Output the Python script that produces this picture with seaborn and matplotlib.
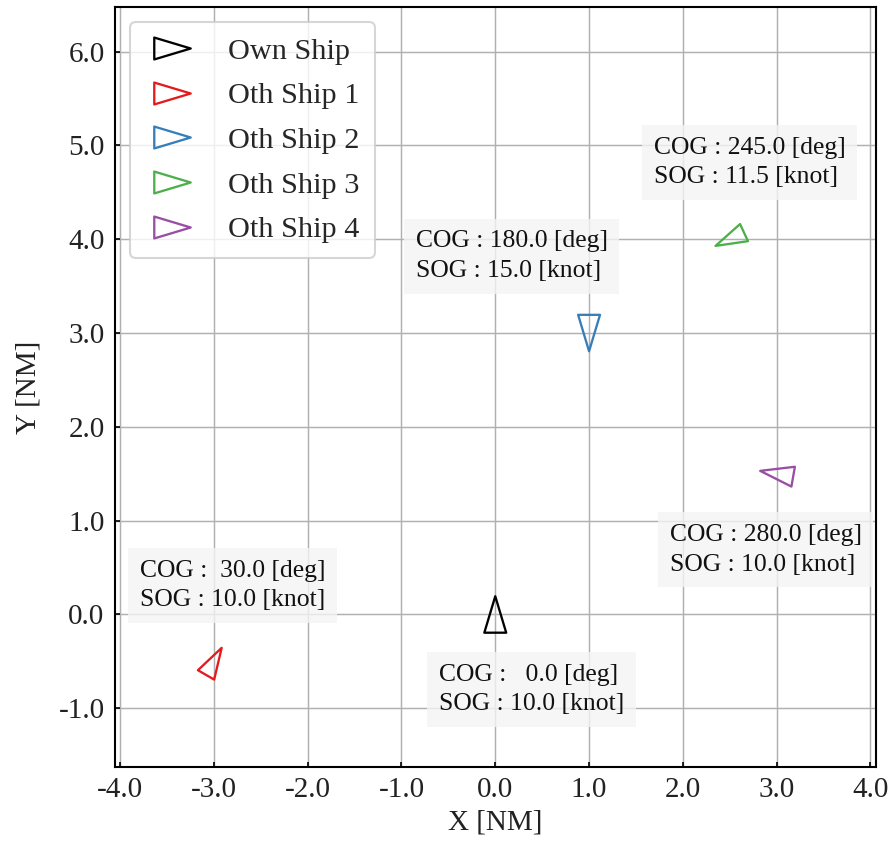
import numpy as np
import matplotlib
matplotlib.use("Agg")
import matplotlib.pyplot as plt
from matplotlib.path import Path
from matplotlib.markers import MarkerStyle
from matplotlib.lines import Line2D
import seaborn as sns

# Ship states: position [NM], course over ground [deg], speed over ground [knot]
ship_names = ["Own Ship", "Oth Ship 1", "Oth Ship 2", "Oth Ship 3", "Oth Ship 4"]
pos_x = [0.0, -3.0, 1.0, 2.5, 3.0]
pos_y = [0.0, -0.5, 3.0, 4.0, 1.5]
cog_deg = [0.0, 30.0, 180.0, 245.0, 280.0]
sog_knot = [10.0, 10.0, 15.0, 11.5, 10.0]
ship_colors = ["black", "#e41a1c", "#377eb8", "#4daf4a", "#984ea3"]

# Info label placement (left edge, vertical centre) relative to each ship
label_dx = [-0.60, -0.79, -1.85, -0.81, -1.14]
label_dy = [-0.80, 0.81, 0.82, 0.82, -0.81]

x_ticks = [-4.0, -3.0, -2.0, -1.0, 0.0, 1.0, 2.0, 3.0, 4.0]
y_ticks = [-1.0, 0.0, 1.0, 2.0, 3.0, 4.0, 5.0, 6.0]

sns.set_theme(style="whitegrid")
plt.rcParams["font.family"] = ["Liberation Serif", "DejaVu Serif"]
plt.rcParams["axes.unicode_minus"] = False

DPI = 150
fig = plt.figure(figsize=(889 / DPI, 843 / DPI), dpi=DPI)
ax = fig.add_axes([115 / 889, 1 - 766.7 / 843, 761 / 889, 759.4 / 843])

# Ship hull symbol: elongated triangle pointing along +x
hull = np.array([[-1.0, -0.6], [1.0, 0.0], [-1.0, 0.6], [-1.0, -0.6]])
codes = [Path.MOVETO, Path.LINETO, Path.LINETO, Path.CLOSEPOLY]


def heading_marker(cog):
    th = np.deg2rad(90.0 - cog)
    rot = np.array([[np.cos(th), -np.sin(th)], [np.sin(th), np.cos(th)]])
    return MarkerStyle(Path(hull @ rot.T, codes))


MS = 17.5
for name, x, y, cog, sog, c, dx, dy in zip(ship_names, pos_x, pos_y, cog_deg,
                                          sog_knot, ship_colors, label_dx, label_dy):
    sns.scatterplot(x=[x], y=[y], marker=heading_marker(cog), s=MS ** 2,
                    fc="none", edgecolor=c, linewidth=1.1, ax=ax, zorder=3)
    ax.text(x + dx, y + dy, "COG : %5.1f [deg]\nSOG : %4.1f [knot]" % (cog, sog),
            ha="left", va="center", fontsize=12.3, linespacing=1.45, zorder=4,
            color="#111111",
            bbox=dict(boxstyle="square,pad=0.45", facecolor="#f4f4f4",
                      edgecolor="none", alpha=0.8))

handles = [Line2D([], [], linestyle="none", marker=Path(hull, codes), markersize=MS,
                  markerfacecolor="none", markeredgecolor=c, markeredgewidth=1.1)
           for c in ship_colors]
ax.legend(handles, ship_names, loc="upper left", fontsize=14.5, frameon=True,
          labelspacing=0.58, handlelength=1.8, handletextpad=0.95, borderpad=0.5)

ax.set_xlim(-4.054, 4.059)
ax.set_ylim(-1.623, 6.473)
ax.set_xticks(x_ticks)
ax.set_yticks(y_ticks)
ax.set_xticklabels(["%.1f" % v for v in x_ticks])
ax.set_yticklabels(["%.1f" % v for v in y_ticks])
ax.tick_params(direction="in", length=2.5, width=0.8, color="black", labelsize=14,
               pad=5, left=True, bottom=True, top=False, right=False,
               labelcolor="#222222")
ax.grid(True, color="#b0b0b0", linewidth=0.7)
for sp in ax.spines.values():
    sp.set_color("black")
    sp.set_linewidth(1.0)
    sp.set_visible(True)
ax.set_xlabel("X [NM]", fontsize=14, color="#222222", labelpad=3)
ax.set_ylabel("Y [NM]", fontsize=14, color="#222222", labelpad=8)

fig.savefig("out.png", dpi=DPI)
